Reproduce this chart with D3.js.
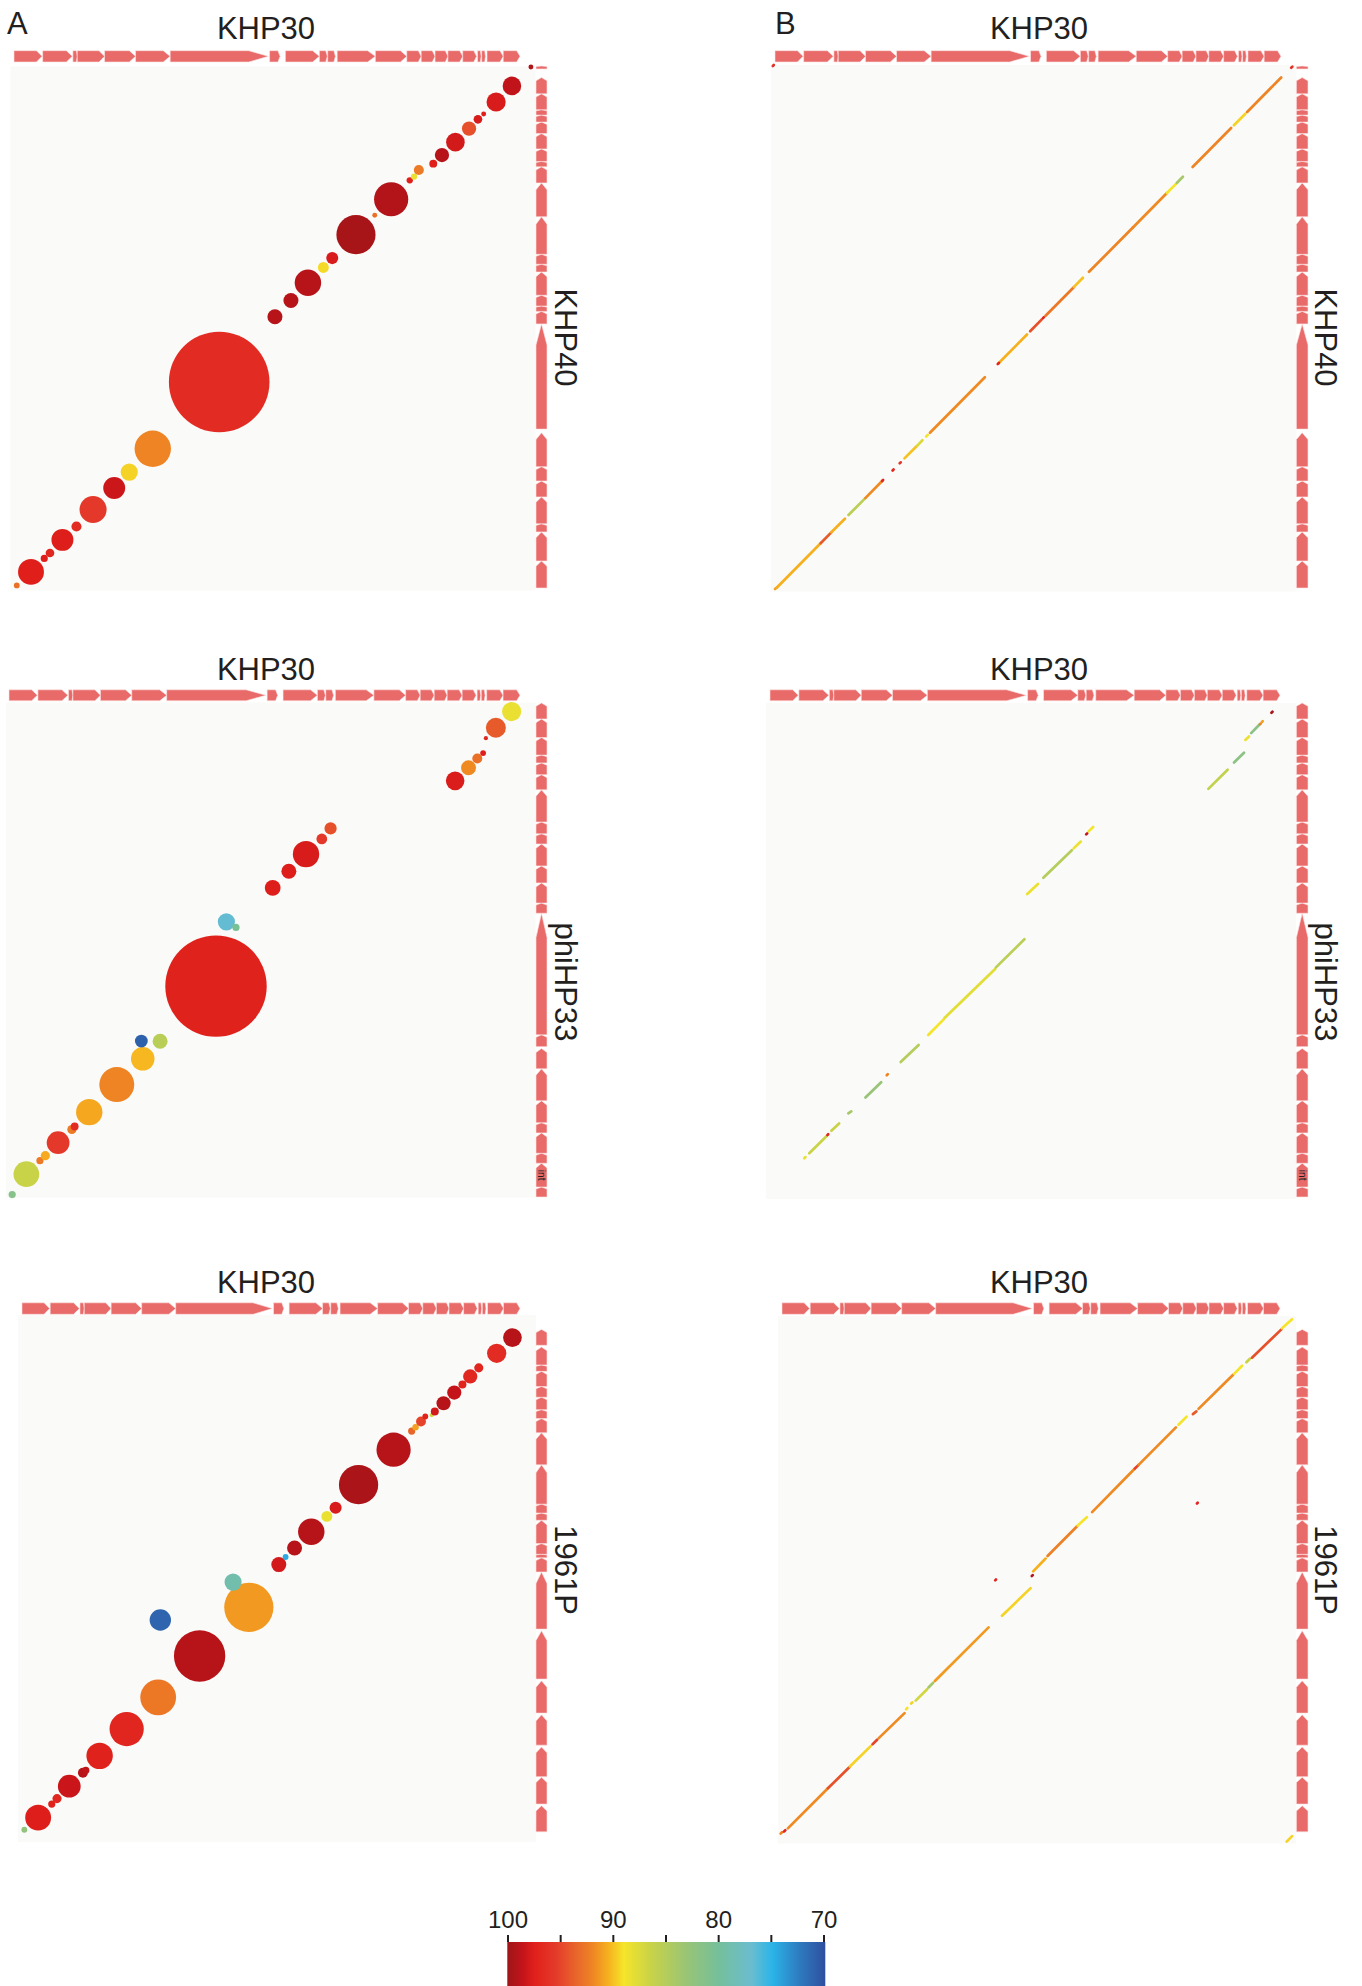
<!DOCTYPE html>
<html><head><meta charset="utf-8">
<script src="https://cdn.jsdelivr.net/npm/d3@7"></script>
<style>
body{margin:0;background:#fff}
svg{display:block}
text{font-family:"Liberation Sans",Arial,Helvetica,sans-serif;fill:#231f20}
</style>
</head><body>
<svg id="chart" width="1362" height="1986"></svg>
<script>
// ---------------- DATA ----------------
const refName = "KHP30";
const refLength = 26.2; // kb
const queryNames = ["KHP40", "phiHP33", "1961P"];
const queryLengths = [26.3, 24.74, 26.7]; // kb

// identity colour scale (percent)
const identityStops = [100, 98.5, 97.5, 95.5, 93.5, 92, 90.5, 89, 86.5, 83, 80, 77, 75, 72.5, 70];
const colorStops = ["#9e1519","#c4141a","#e01f1b","#e4392a","#e8662a","#ee8424","#f6b01e","#f5e52a","#c9d347","#98c477","#74bf9b","#6bbdcf","#2ab4e8","#2e7cc0","#2e4f9e"];
const colorbarTicks = [100, 95, 90, 85, 80, 75, 70];
const colorbarLabels = [100, 90, 80, 70];

// genes [start kb, end kb] (all forward strand)
const khp30Genes = [[0,1.42],[1.45,2.95],[2.98,3.2],[3.2,4.58],[4.58,6.15],[6.15,7.9],[7.9,12.87],[12.93,13.46],[13.73,15.45],[15.45,15.85],[15.87,16.26],[16.35,18.28],[18.28,19.87],[19.87,20.6],[20.6,21.3],[21.3,21.95],[21.95,22.7],[22.7,23.4],[23.45,23.63],[23.66,23.85],[23.93,24.75],[24.75,25.6]];
const khp40Genes = [[0.05,1.41],[1.41,2.87],[2.87,3.28],[3.28,4.63],[4.63,5.43],[5.43,6.15],[6.15,7.86],[8.04,13.33],[13.33,13.96],[13.96,14.23],[14.23,14.77],[14.77,15.94],[15.94,16.33],[16.33,16.83],[16.83,18.72],[18.72,20.42],[20.42,21.23],[21.23,21.5],[21.5,22.13],[22.13,22.9],[22.9,23.48],[23.48,23.83],[23.83,24.1],[24.1,24.9],[24.9,25.72],[26.15,26.3]];
const phiHP33Genes = [[0,0.5],[0.5,1.69],[1.69,2.19],[2.19,3.21],[3.21,3.72],[3.72,4.82],[4.82,6.42],[6.42,7.44],[7.53,8.12],[8.12,14.21],[14.21,14.72],[14.72,15.73],[15.73,16.58],[16.58,17.68],[17.68,18.19],[18.19,18.78],[18.78,20.39],[20.39,21.15],[21.15,21.74],[21.74,22.13],[22.13,23.01],[23.01,23.94],[23.94,24.74]];
const phiHP33GeneNames = {1: "int"};
const p1961Genes = [[0.11,1.45],[1.54,2.92],[2.95,4.48],[4.57,6.13],[6.22,7.88],[7.97,10.45],[10.54,13.48],[13.48,14.21],[14.21,14.39],[14.39,14.94],[14.94,16.14],[16.14,16.51],[16.51,16.97],[16.97,18.99],[18.99,20.64],[20.64,21.37],[21.37,21.83],[21.83,22.47],[22.47,23.02],[23.02,23.8],[23.8,24.13],[24.13,25.05],[25.14,25.96]];

// panel A: bubbles [KHP30 centre kb, query centre kb, length kb, identity %]
const khp40Bubbles = [[0.14,0.18,0.29,93],[0.86,0.86,1.31,97.5],[1.53,1.54,0.36,97.5],[1.82,1.81,0.44,96.8],[2.45,2.47,1.11,97.6],[3.16,3.14,0.51,96.5],[4.0,4.0,1.37,95.5],[5.07,5.08,1.11,98.2],[5.83,5.88,0.87,89.5],[7.02,7.05,1.84,92],[10.38,10.41,5.09,96.5],[13.2,13.69,0.76,99],[14.01,14.51,0.76,99],[14.87,15.4,1.34,99],[15.65,16.17,0.55,89.3],[16.1,16.64,0.61,97.8],[17.3,17.82,1.98,99.6],[18.25,18.79,0.25,93],[19.08,19.6,1.73,99.2],[20.02,20.55,0.32,97.5],[20.24,20.74,0.32,88.3],[20.48,21.07,0.51,92.5],[21.21,21.39,0.40,97.5],[21.65,21.82,0.72,99],[22.33,22.47,0.94,98],[23.02,23.15,0.72,94.5],[23.47,23.62,0.44,97.8],[23.76,23.89,0.25,97.5],[24.39,24.49,0.97,97.8],[25.19,25.3,0.94,98.6],[26.15,26.25,0.25,99.3]];
const phiHP33Bubbles = [[0.16,0.12,0.36,81.5],[0.87,1.14,1.29,86.5],[1.55,1.82,0.36,92.5],[1.82,2.07,0.46,90.7],[2.46,2.72,1.14,95.5],[3.15,3.38,0.46,92.5],[3.29,3.53,0.39,96.5],[4.02,4.25,1.32,90.8],[5.4,5.63,1.75,92],[6.7,6.92,1.18,90.3],[6.63,7.81,0.64,71],[7.57,7.8,0.75,85.3],[10.37,10.56,5.08,97.3],[10.89,13.78,0.86,76.8],[11.37,13.5,0.36,80.5],[13.21,15.48,0.79,97.6],[14.02,16.31,0.75,97.6],[14.88,17.17,1.32,97.8],[15.67,17.93,0.54,95.5],[16.11,18.46,0.61,94.5],[22.35,20.84,0.93,97.7],[23.02,21.5,0.75,91.8],[23.46,21.96,0.5,93],[23.75,22.23,0.29,97.5],[23.89,22.98,0.21,97],[24.39,23.5,1.0,94],[25.18,24.31,0.96,88.3]];
const p1961Bubbles = [[0.12,0.22,0.3,82.5],[0.83,0.84,1.33,97.6],[1.53,1.54,0.37,97.3],[1.8,1.82,0.47,96.8],[2.43,2.46,1.17,98.3],[3.13,3.15,0.51,99],[3.28,3.28,0.37,98.7],[3.99,4.02,1.36,97.3],[5.38,5.4,1.76,97],[7.0,7.03,1.84,92.6],[9.13,9.16,2.64,99],[7.11,11.01,1.1,71.2],[11.66,11.66,2.53,91.3],[10.85,12.96,0.88,79],[13.2,13.86,0.77,98],[13.55,14.25,0.3,74.5],[14.01,14.71,0.77,99],[14.87,15.55,1.36,99],[15.67,16.34,0.56,88.3],[16.12,16.78,0.62,97.8],[17.3,17.97,2.02,99.5],[19.1,19.77,1.76,99],[20.03,20.73,0.37,93.5],[20.23,20.93,0.33,91],[20.51,21.22,0.51,95],[20.73,21.48,0.3,97.3],[21.06,21.55,0.22,87],[21.22,21.74,0.41,98],[21.67,22.16,0.73,99],[22.22,22.71,0.73,98.5],[22.64,23.12,0.41,97.2],[23.04,23.54,0.73,96.8],[23.48,23.98,0.47,97],[24.4,24.73,0.99,96.5],[25.21,25.54,0.96,99]];

// panel B: alignment segments [KHP30 start, query start, KHP30 end, query end, identity %]
const khp40Segments = [[0,0,0.11,0.09,91],[0.11,0.09,2.31,2.30,90.5],[2.31,2.30,2.85,2.85,94],[2.85,2.85,3.54,3.53,90.5],[3.72,3.72,4.57,4.57,85.5],[4.57,4.57,5.42,5.43,91.8],[5.42,5.43,5.47,5.48,97],[5.95,5.96,6.0,6.01,97],[6.31,6.32,6.36,6.37,96],[6.55,6.57,7.19,7.2,90],[7.19,7.2,7.46,7.48,87.5],[7.65,7.67,7.73,7.75,89],[7.84,7.86,10.62,10.65,91.8],[11.3,11.34,12.75,12.8,90.5],[11.27,11.31,11.33,11.37,97],[12.91,12.96,13.5,13.56,94.5],[13.56,13.62,13.61,13.67,97],[13.69,13.74,15.13,15.19,92.6],[15.13,15.19,15.58,15.65,90],[15.89,15.95,18.11,18.18,92],[18.11,18.18,19.83,19.91,91.8],[19.83,19.91,20.28,20.36,89],[20.33,20.42,20.64,20.73,84],[21.13,21.22,23.08,23.18,92],[23.22,23.32,23.8,23.9,89.5],[23.89,23.99,25.61,25.72,92],[-0.11,26.3,-0.06,26.35,96],[26.12,26.21,26.18,26.27,96]];
const phiHP33Segments = [[1.72,1.94,1.78,2.0,88.5],[1.97,2.19,2.86,3.07,86.5],[2.88,3.1,2.92,3.14,97],[3.08,3.32,3.47,3.68,86.5],[3.93,4.19,4.08,4.29,84],[4.79,4.98,5.58,5.75,83],[5.86,6.1,5.91,6.15,92],[6.56,6.76,7.46,7.61,85],[7.94,8.11,8.73,8.91,89],[8.76,8.96,11.3,11.42,88],[11.34,11.5,12.77,12.91,85.5],[12.91,15.17,13.45,15.68,88.5],[13.72,15.99,15.15,17.37,85],[15.24,17.46,15.6,17.8,88.5],[15.87,18.16,15.92,18.21,98.5],[15.99,18.31,16.22,18.53,89],[22.0,20.44,22.97,21.4,86],[23.29,21.76,23.79,22.25,82],[23.86,22.89,24.04,23.06,88.5],[24.15,23.23,24.57,23.66,82],[24.59,23.67,24.63,23.71,92],[24.69,23.79,24.73,23.83,91],[25.17,24.25,25.22,24.3,99.5]];
const p1961Segments = [[-0.07,0.02,0.0,0.09,92],[0.1,0.12,0.17,0.19,97],[0.3,0.29,2.36,2.35,91.8],[2.36,2.35,3.46,3.43,94.5],[3.49,3.47,4.56,4.52,89.5],[4.65,4.61,4.89,4.85,95],[4.96,4.92,6.3,6.22,91.8],[6.38,6.42,6.44,6.48,89],[6.64,6.71,6.7,6.77,89.5],[6.87,6.86,7.46,7.45,87],[7.53,7.54,7.77,7.78,84],[7.86,7.87,10.62,10.63,91.3],[11.31,11.23,12.78,12.65,89.5],[12.84,13.27,12.89,13.32,99],[10.96,13.05,11.0,13.09,97],[12.91,13.51,13.55,14.17,90.5],[13.65,14.3,15.17,15.83,92.2],[15.2,15.87,15.67,16.3,89],[15.94,16.56,18.14,18.8,91.8],[18.14,18.8,18.33,18.99,95],[18.33,18.99,20.25,20.92,91.8],[20.38,21.05,20.8,21.47,89],[21.12,21.6,21.3,21.74,94],[21.41,21.87,23.19,23.63,91.8],[23.24,23.67,23.65,24.09,89],[23.87,24.27,24.05,24.45,86.5],[24.16,24.5,25.67,25.96,94.5],[25.7,26.02,26.22,26.48,89],[25.94,-0.39,26.22,-0.11,89.5],[21.33,17.0,21.37,17.04,97]];

const queryGenes = [khp40Genes, phiHP33Genes, p1961Genes];
const queryBubbles = [khp40Bubbles, phiHP33Bubbles, p1961Bubbles];
const querySegments = [khp40Segments, phiHP33Segments, p1961Segments];

// ---------------- LAYOUT ----------------
const rows = [
  {yr:[589,66],   tt:[50.7,62],    titleY:39,    labelY:337.5},
  {yr:[1197,703], tt:[689.8,700.8],titleY:680,   labelY:982},
  {yr:[1834,1315],tt:[1302.8,1314.3],titleY:1293, labelY:1570}
];
const cols = [
  {letter:"A", letterX:7,   letterY:34, titleX:266,  labelX:555,  vt:[536,547],
   xr:[[14,531.9],[9,532],[22,531.7]],
   bg:[[10.5,66.5,535.5,590.5],[6,702.5,535.5,1197.5],[18,1315,536,1842]]},
  {letter:"B", letterX:775, letterY:34, titleX:1039, labelX:1315, vt:[1296.4,1308],
   xr:[[775,1292.8],[770,1292],[782,1291.7]],
   bg:[[771,65,1296.4,591.5],[766,703,1296,1199],[778,1315.7,1296,1843.5]]}
];

const geneFill = "#e86b6a";
const bgFill = "#fafaf8";

const svg = d3.select("#chart");
const color = d3.scaleLinear().domain(identityStops).range(colorStops).interpolate(d3.interpolateRgb).clamp(true);

function hGene(x, y0, y1) {
  return d => {
    const a = x(d[0]), b = x(d[1]), L = b - a, h = L * 0.2, m = (y0 + y1) / 2;
    return `M${a},${y0}L${b - h},${y0}L${b},${m}L${b - h},${y1}L${a},${y1}Z`;
  };
}
function vGene(y, x0, x1) {
  return d => {
    const a = y(d[0]), b = y(d[1]), L = a - b, h = L * 0.2, m = (x0 + x1) / 2;
    return `M${x0},${a}L${x0},${b + h}L${m},${b}L${x1},${b + h}L${x1},${a}Z`;
  };
}

cols.forEach((c, ci) => {
  svg.append("text").attr("x", c.letterX).attr("y", c.letterY)
    .attr("font-size", 31).text(c.letter);
  rows.forEach((r, ri) => {
    const g = svg.append("g");
    const x = d3.scaleLinear().domain([0, refLength]).range(c.xr[ri]);
    const y = d3.scaleLinear().domain([0, queryLengths[ri]]).range(r.yr);
    const bg = c.bg[ri];
    g.append("rect").attr("x", bg[0]).attr("y", bg[1])
      .attr("width", bg[2] - bg[0]).attr("height", bg[3] - bg[1]).attr("fill", bgFill);
    // title
    g.append("text").attr("x", c.titleX).attr("y", r.titleY)
      .attr("text-anchor", "middle").attr("font-size", 31).text(refName);
    // top gene track
    g.append("g").selectAll("path").data(khp30Genes).join("path")
      .attr("d", hGene(x, r.tt[0], r.tt[1]))
      .attr("fill", geneFill).attr("stroke", "#fbe3e3").attr("stroke-width", 0.6);
    // vertical gene track
    g.append("g").selectAll("path").data(queryGenes[ri]).join("path")
      .attr("d", vGene(y, c.vt[0], c.vt[1]))
      .attr("fill", geneFill).attr("stroke", "#fbe3e3").attr("stroke-width", 0.6);
    if (ri === 1) {
      Object.entries(phiHP33GeneNames).forEach(([i, name]) => {
        const gd = queryGenes[ri][+i];
        const cy = (y(gd[0]) + y(gd[1])) / 2, cx = (c.vt[0] + c.vt[1]) / 2;
        g.append("text").attr("transform", `translate(${cx - 3.5},${cy}) rotate(90)`)
          .attr("text-anchor", "middle").attr("font-size", 10).text(name);
      });
    }
    // query label
    g.append("text").attr("transform", `translate(${c.labelX},${r.labelY}) rotate(90)`)
      .attr("text-anchor", "middle").attr("font-size", 31).text(queryNames[ri]);
    if (ci === 0) {
      g.append("g").selectAll("circle").data(queryBubbles[ri]).join("circle")
        .attr("cx", d => x(d[0])).attr("cy", d => y(d[1]))
        .attr("r", d => (x(d[2]) - x(0)) / 2)
        .attr("fill", d => color(d[3]));
    } else {
      g.append("g").selectAll("line").data(querySegments[ri]).join("line")
        .attr("x1", d => x(d[0])).attr("y1", d => y(d[1]))
        .attr("x2", d => x(d[2])).attr("y2", d => y(d[3]))
        .attr("stroke", d => color(d[4])).attr("stroke-width", 2.7)
        .attr("stroke-linecap", "round");
    }
  });
});

// ---------------- COLOUR BAR ----------------
const cbX = d3.scaleLinear().domain([100, 70]).range([508, 824]);
const defs = svg.append("defs");
const grad = defs.append("linearGradient").attr("id", "idgrad").attr("x1", "0%").attr("x2", "100%");
identityStops.forEach((v, i) => {
  grad.append("stop").attr("offset", ((100 - v) / 30 * 100) + "%").attr("stop-color", colorStops[i]);
});
svg.append("rect").attr("x", cbX(100) - 0.7).attr("y", 1942)
  .attr("width", cbX(70) - cbX(100) + 2).attr("height", 44).attr("fill", "url(#idgrad)");
svg.append("g").selectAll("line").data(colorbarTicks).join("line")
  .attr("x1", d => cbX(d)).attr("x2", d => cbX(d))
  .attr("y1", 1935).attr("y2", 1942).attr("stroke", "#231f20").attr("stroke-width", 2);
svg.append("g").selectAll("text").data(colorbarLabels).join("text")
  .attr("x", d => cbX(d)).attr("y", 1928).attr("text-anchor", "middle")
  .attr("font-size", 24).text(d => d);
</script>
</body></html>
